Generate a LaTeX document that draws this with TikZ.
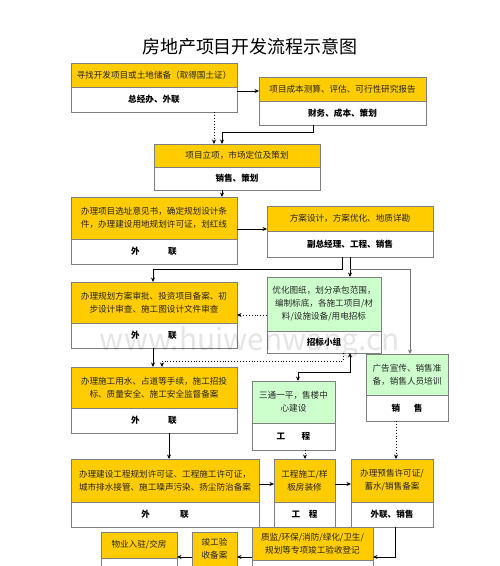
\documentclass[tikz,border=0pt]{standalone}
\usepackage{fontspec}
\setmainfont{Noto Sans CJK SC}
\usetikzlibrary{arrows.meta,calc}
\definecolor{gold}{HTML}{FFCC00}
\definecolor{mint}{HTML}{CCFFCC}
\definecolor{edge}{HTML}{7F7F7F}
\tikzset{
  part/.style={draw=edge, line width=0.8pt, inner sep=0pt, outer sep=0pt, align=center,
    font=\fontsize{8.6}{13}\selectfont, text=black!85},
  lbl/.style={font=\fontsize{8.6}{13}\selectfont\bfseries, text=black},
  tip/.tip={Stealth[length=4.5pt,width=4pt]},
  conn/.style={line width=0.9pt, -tip},
  dconn/.style={conn, dotted},
}
\newcommand\mkbox[9]{%
  \node[part, fill=#7, anchor=north west, minimum width={(#4-#2)*1pt}, minimum height={(#5-#3)*1pt}] (#1t) at (#2,#3) {#8};
  \node[part, fill=white, anchor=north west, minimum width={(#4-#2)*1pt}, minimum height={(#6-#5)*1pt}, lbl] (#1b) at (#2,#5) {#9};
}
\begin{document}
\begin{tikzpicture}[x=1pt,y=-1pt]
\useasboundingbox (0,0) rectangle (500,566);
\clip (0,0) rectangle (500,566);
\fill[white] (0,0) rectangle (500,566);
\node[font=\fontsize{18}{20}\selectfont] (title) at (250,47) {房地产项目开发流程示意图};

\mkbox{b1}{71}{63}{237}{87}{112}{gold}{寻找开发项目或土地储备（取得国土证）}{总经办、外联}
\mkbox{b2}{259}{77}{426}{101}{125}{gold}{项目成本测算、评估、可行性研究报告}{财务、成本、策划}
\mkbox{b3}{154}{144}{320}{167}{190}{gold}{项目立项，市场定位及策划}{销售、策划}
\mkbox{b4}{71}{197}{237}{239}{264}{gold}{办理项目选址意见书，确定规划设计条\\件，办理建设用地规划许可证，划红线}{外\hspace{3.3em}联}
\mkbox{b5}{267}{206}{433}{231}{257}{gold}{方案设计，方案优化、地质详勘}{副总经理、工程、销售}
\mkbox{b6}{71}{282}{237}{323}{348}{gold}{办理规划方案审批、投资项目备案、初\\步设计审查、施工图设计文件审查}{外\hspace{3.3em}联}
\mkbox{b7}{267}{277}{381}{331}{353}{mint}{优化图纸，划分承包范围，\\编制标底，各施工项目/材\\料/设施设备/用电招标}{招标小组}
\mkbox{b8}{366}{354}{448}{395}{421}{mint}{广告宣传、销售准\\备，销售人员培训}{销\hspace{1.6em}售}
\mkbox{b9}{71}{367}{237}{408}{433}{gold}{办理施工用水、占道等手续，施工招投\\标、质量安全、施工安全监督备案}{外\hspace{3.3em}联}
\mkbox{b10}{252}{381}{335}{423}{450}{mint}{三通一平，售楼中\\心建设}{工\hspace{1.9em}程}
\mkbox{b11}{71}{459}{259}{502}{527}{gold}{办理建设工程规划许可证、工程施工许可证，\\城市排水接管、施工噪声污染、扬尘防治备案}{外\hspace{3.5em}联}
\mkbox{b12}{274}{459}{335}{502}{527}{gold}{工程施工/样\\板房装修}{工\hspace{1em}程}
\mkbox{b13}{351}{459}{433}{502}{527}{gold}{办理预售许可证/\\蓄水/销售备案}{外联、销售}
\mkbox{b14}{252}{527}{373}{560}{600}{gold}{质监/环保/消防/绿化/卫生/\\规划等专项竣工验收登记}{}
\mkbox{b15}{192}{532}{237}{566}{600}{gold}{竣工验\\收备案}{}
\mkbox{b16}{101}{532}{177}{558}{600}{gold}{物业入驻/交房}{}

% connectors
\coordinate (p1) at ($(b1b.north east)+(0,4)$);
\draw[conn] (p1) -- (p1 -| b2t.west);
\coordinate (p2) at ($(b1b.south west)+(143,0)$);
\draw[dconn] (p2) -- (p2 |- b3t.north);
\coordinate (p3) at ($(b2b.south west)+(54,0)$);
\draw[conn] (p3) -- ++(0,7) -| ($(b3t.north west)+(68,0)$);
\coordinate (p4) at ($(b3b.south west)+(68,0)$);
\draw[conn] (p4) -- (p4 |- b4t.north);
\coordinate (p5) at ($(b4t.north east)+(0,32)$);
\draw[conn] (p5) -- (p5 -| b5t.west);
\coordinate (p6) at ($(b5b.south west)+(75,0)$);
\draw[conn] (p6) -- ++(0,12) -| ($(b6t.north west)+(82,0)$);
\coordinate (p7) at ($(b5b.south west)+(83,0)$);
\draw[conn] (p7) -- (p7 |- b7t.north);
\draw[conn, draw=black!55] ($(p7)+(0,12)$) -| ($(b8t.north west)+(44,0)$);
\coordinate (p9) at ($(b7t.north west)+(0,38)$);
\draw[dconn] (p9) -- (p9 -| b6t.east);
\coordinate (p10) at ($(b6b.south west)+(82,0)$);
\draw[conn] (p10) -- (p10 |- b9t.north);
\coordinate (p11) at ($(b7b.south west)+(76,0)$);
\draw[dconn] (p11) -- ++(0,8) -| ($(b9t.north west)+(91,0)$);
\coordinate (p12) at ($(b7b.south west)+(83,0)$);
\draw[conn, tip-tip] (p12) -- ++(0,19) -| ($(b10t.north west)+(46,0)$);
\coordinate (p13) at ($(b9b.south west)+(98,0)$);
\draw[conn] (p13) -- (p13 |- b11t.north);
\coordinate (p14) at ($(b10b.south west)+(53,0)$);
\draw[dconn] (p14) -- (p14 |- b12t.north);
\coordinate (p15) at ($(b8b.south west)+(30,0)$);
\draw[dconn] (p15) -- (p15 |- b13t.north);
\coordinate (p16) at ($(b11t.north east)+(0,25)$);
\draw[conn] (p16) -- (p16 -| b12t.west);
\coordinate (p17) at ($(b12t.north east)+(0,25)$);
\draw[conn] (p17) -- (p17 -| b13t.west);
\coordinate (p18) at ($(b13b.south west)+(44,0)$);
\draw[conn] (p18) |- ($(b14t.north east)+(0,30)$);
\coordinate (p19) at ($(b14t.north west)+(0,30)$);
\draw[conn] (p19) -- (p19 -| b15t.east);
\coordinate (p20) at ($(b15t.north west)+(0,25)$);
\draw[conn] (p20) -- (p20 -| b16t.east);

\node[font=\fontsize{30}{30}\selectfont, text=black, opacity=0.10] (wm) at (250,342) {www.huiwenwang.cn};
\end{tikzpicture}
\end{document}
